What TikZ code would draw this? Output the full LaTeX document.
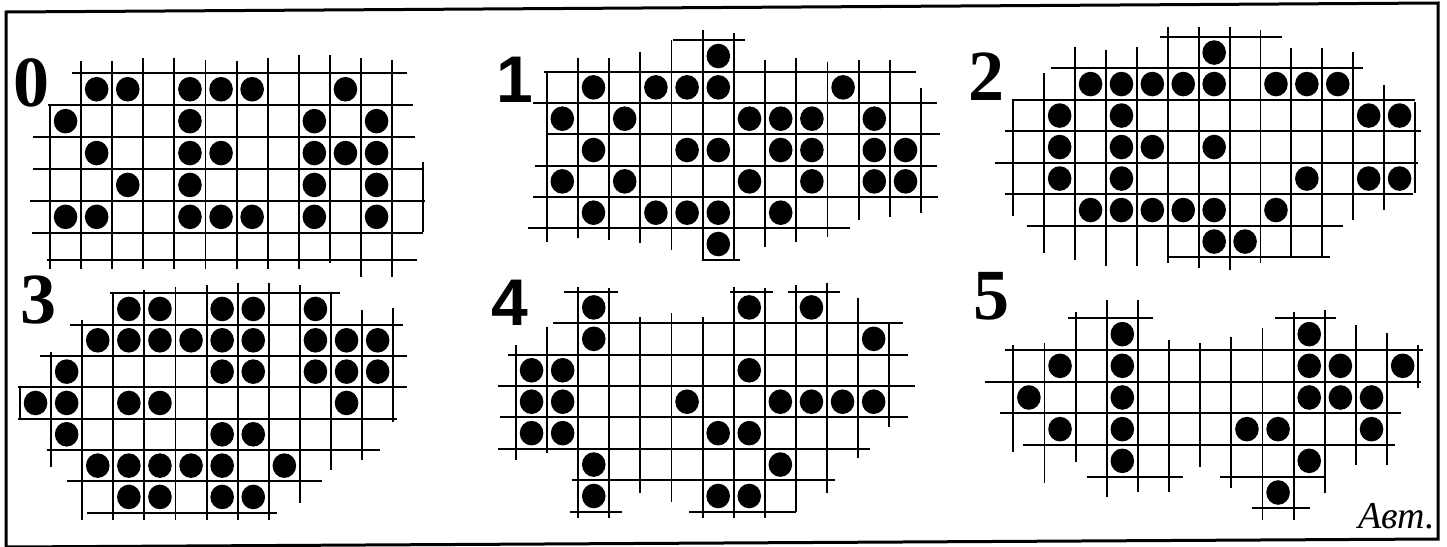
\documentclass[tikz,border=0pt]{standalone}
\usepackage{fontspec}
\setmainfont{Liberation Serif}
\newfontfamily\digsans{Liberation Sans}
\newfontfamily\digserif{Liberation Serif}
\tikzset{
  gl/.style={line width=1.9pt, line cap=butt},
  frameline/.style={line width=3pt, line join=miter},
  bead/.style={fill=black},
  serifnum/.style={inner sep=0pt, anchor=base west, font=\digserif\bfseries\fontsize{72}{72}\selectfont},
  sansnum/.style={inner sep=0pt, anchor=base west, font=\digsans\bfseries\fontsize{66}{66}\selectfont},
  sign/.style={inner sep=0pt, anchor=base west, font=\digserif\itshape\fontsize{38}{38}\selectfont}
}
% #1 shift, #2 x unit, #3 y unit, #4 horizontal lines j/a/b, #5 vertical lines i/a/b, #6 dots c/r
\newcommand\gridpanel[6]{%
  \begin{scope}[shift={#1}, x=#2, y=#3]
    \foreach \j/\a/\b in {#4} {\draw[gl] (\a,\j) -- (\b,\j);}
    \foreach \i/\a/\b in {#5} {\draw[gl] (\i,\a) -- (\i,\b);}
    \foreach \c/\r in {#6} {\fill[bead] (\c+0.5,\r+0.5) ellipse[x radius=11.8pt, y radius=12.3pt];}
  \end{scope}}
\begin{document}
\begin{tikzpicture}[x=1pt, y=-1pt]
\useasboundingbox (0,0) rectangle (1447,546);
\fill[white] (0,0) rectangle (1447,546);
% frame
\coordinate (f1) at (6,12);
\coordinate (f2) at (1438,3);
\coordinate (f3) at (1438,539);
\coordinate (f4) at (6,547);
\draw[frameline] (f4) -- (f1) -- (f2) -- (f3) -- (f4);

% panel 0
\gridpanel{(50,73.3)}{31.1pt}{-31.9pt}
 {0/0.7/11.49, 1/-0.05/11.68, 2/-0.54/11.74, 3/-0.54/12.0, 4/-0.64/12.06, 5/-0.59/12.0, 5.86/-0.1/11.79}
 {0/1/6.12, 1/-0.37/6.12, 2/-0.37/6.12, 3/-0.47/6.12, 4/-0.47/6.12, 5/-0.42/6.12, 6/-0.37/6.12, 7/-0.47/6.12, 8/-0.58/6.12, 9/-0.58/5.96, 10/-0.47/6.38, 11/-0.42/6.38, 12/2.77/4.97}
 {1/0,2/0,4/0,5/0,6/0,9/0, 0/1,4/1,8/1,10/1, 1/2,4/2,5/2,8/2,9/2,10/2, 2/3,4/3,8/3,10/3, 0/4,1/4,4/4,5/4,6/4,8/4,10/4}

% panel 1
\gridpanel{(546.7,71.7)}{31.2pt}{-31.33pt}
 {-1/4.04/6.36, 0/-0.1/11.84, 1/-0.43/12.5, 2/0/12.6, 3/-0.37/12.5, 4/-0.43/12.55, 5/-0.59/9.72, 6/4.97/6.2}
 {0/0/5.43, 1/-0.43/5.32, 2/-0.43/5.37, 3/-0.64/5.48, 4/-1.01/5.69, 5/-1.33/6.01, 6/-1.22/6.01, 7/-0.37/5.59, 8/-0.43/5.43, 9/-0.32/5.27, 10/-0.37/4.73, 11/-0.37/4.63, 12/0.53/4.52}
 {5/-1, 1/0,3/0,4/0,5/0,9/0, 0/1,2/1,6/1,7/1,8/1,10/1, 1/2,4/2,5/2,7/2,8/2,10/2,11/2, 0/3,2/3,6/3,8/3,10/3,11/3, 1/4,3/4,4/4,5/4,7/4, 5/5}

% panel 2
\gridpanel{(1013.3,68.3)}{30.9pt}{-31.5pt}
 {-1/4.75/8.68, 0/1.21/11.33, 1/-0.05/13.0, 2/-0.27/13.2, 3/-0.59/13.1, 4/-0.27/12.95, 5/0.43/10.66, 6/5.02/10.25}
 {0/1.0/4.7, 1/0.16/5.87, 2/-0.69/6.08, 3/-0.58/6.29, 4/-0.69/6.29, 5/-1.32/6.18, 6/-1.32/6.34, 7/-1.32/6.4, 8/-1.22/6.18, 9/-0.63/5.97, 10/-0.63/5.97, 11/-0.53/4.81, 12/0.53/4.49, 13/1.06/3.96}
 {6/-1, 2/0,3/0,4/0,5/0,6/0,8/0,9/0,10/0, 1/1,3/1,11/1,12/1, 1/2,3/2,4/2,6/2, 1/3,3/3,9/3,11/3,12/3, 2/4,3/4,4/4,5/4,6/4,8/4, 6/5,7/5}

% panel 3
\gridpanel{(20,293.3)}{31.1pt}{-31.33pt}
 {0/2.89/10.29, 1/1.61/12.33, 2/0.64/12.43, 3/-0.05/12.43, 4/-0.05/12.11, 5/0.86/11.58, 6/1.5/9.7, 7/2.14/8.25}
 {0/3/4.05, 1/1.86/5.53, 2/0.85/7.23, 3/-0.05/7.23, 4/-0.1/7.23, 5/-0.21/7.23, 6/-0.27/7.23, 7/-0.32/7.23, 8/-0.32/7.23, 9/-0.27/6.7, 10/-0.05/5.64, 11/0.53/5.32, 12/0.48/4.1}
 {3/0,4/0,6/0,7/0,9/0, 2/1,3/1,4/1,5/1,6/1,7/1,9/1,10/1,11/1, 1/2,6/2,7/2,9/2,10/2,11/2, 0/3,1/3,3/3,4/3,10/3, 1/4,6/4,7/4, 2/5,3/5,4/5,5/5,6/5,8/5, 3/6,4/6,6/6,7/6}

% panel 4
\gridpanel{(516,291.7)}{31.1pt}{-31.43pt}
 {0/1.54/3.29, 0/6.88/8.27, 0/8.76/10.42, 1/1.2/12.45, 2/-0.25/12.6, 3/-0.57/12.83, 4/-0.51/12.6, 5/-0.57/11.38, 6/1.79/10.26, 7/1.74/3.4, 7/5.57/9.0}
 {0/1.7/5.36, 1/1.11/5.14, 2/-0.16/7.21, 3/-0.11/7.21, 4/0.8/6.42, 5/0.69/6.68, 6/0.8/7.21, 7/-0.16/7.21, 8/-0.11/7.21, 9/-0.21/7.0, 10/-0.27/6.42, 11/0.21/5.3, 12/0.95/4.3}
 {2/0,7/0,9/0, 2/1,11/1, 0/2,1/2,7/2, 0/3,1/3,5/3,8/3,9/3,10/3,11/3, 0/4,1/4,6/4,7/4, 2/5,8/5, 2/6,6/6,7/6}

% panel 5
\gridpanel{(1013.3,318.3)}{31.15pt}{-31.67pt}
 {0/1.76/4.49, 0/8.4/10.37, 1/-0.27/13.16, 2/-0.91/13.1, 3/-0.43/12.46, 4/0.32/12.25, 5/2.35/5.45, 5/6.63/10.0, 6/7.65/9.52}
 {0/0.84/4.21, 1/0.79/5.21, 2/-0.21/4.53, 3/-0.58/5.63, 4/-0.58/5.47, 5/0.68/5.47, 6/0.79/4.68, 7/0.58/5.37, 8/0.32/6.37, 9/-0.21/6.37, 10/-0.26/5.53, 11/0.21/4.63, 12/0.47/4.63, 13/0.84/2.21}
 {3/0,9/0, 1/1,3/1,9/1,10/1,12/1, 0/2,3/2,9/2,10/2,11/2, 1/3,3/3,7/3,8/3,11/3, 3/4,9/4, 8/5}

% labels
\node[serifnum] (n0) at (13,106) {0};
\node[sansnum]  (n1) at (496,102) {1};
\node[serifnum] (n2) at (968,100) {2};
\node[serifnum] (n3) at (20,323) {3};
\node[sansnum]  (n4) at (491,325) {4};
\node[serifnum] (n5) at (973,319) {5};
\node[sign] (sig) at (1358,528) {Авт.};
\end{tikzpicture}
\end{document}
